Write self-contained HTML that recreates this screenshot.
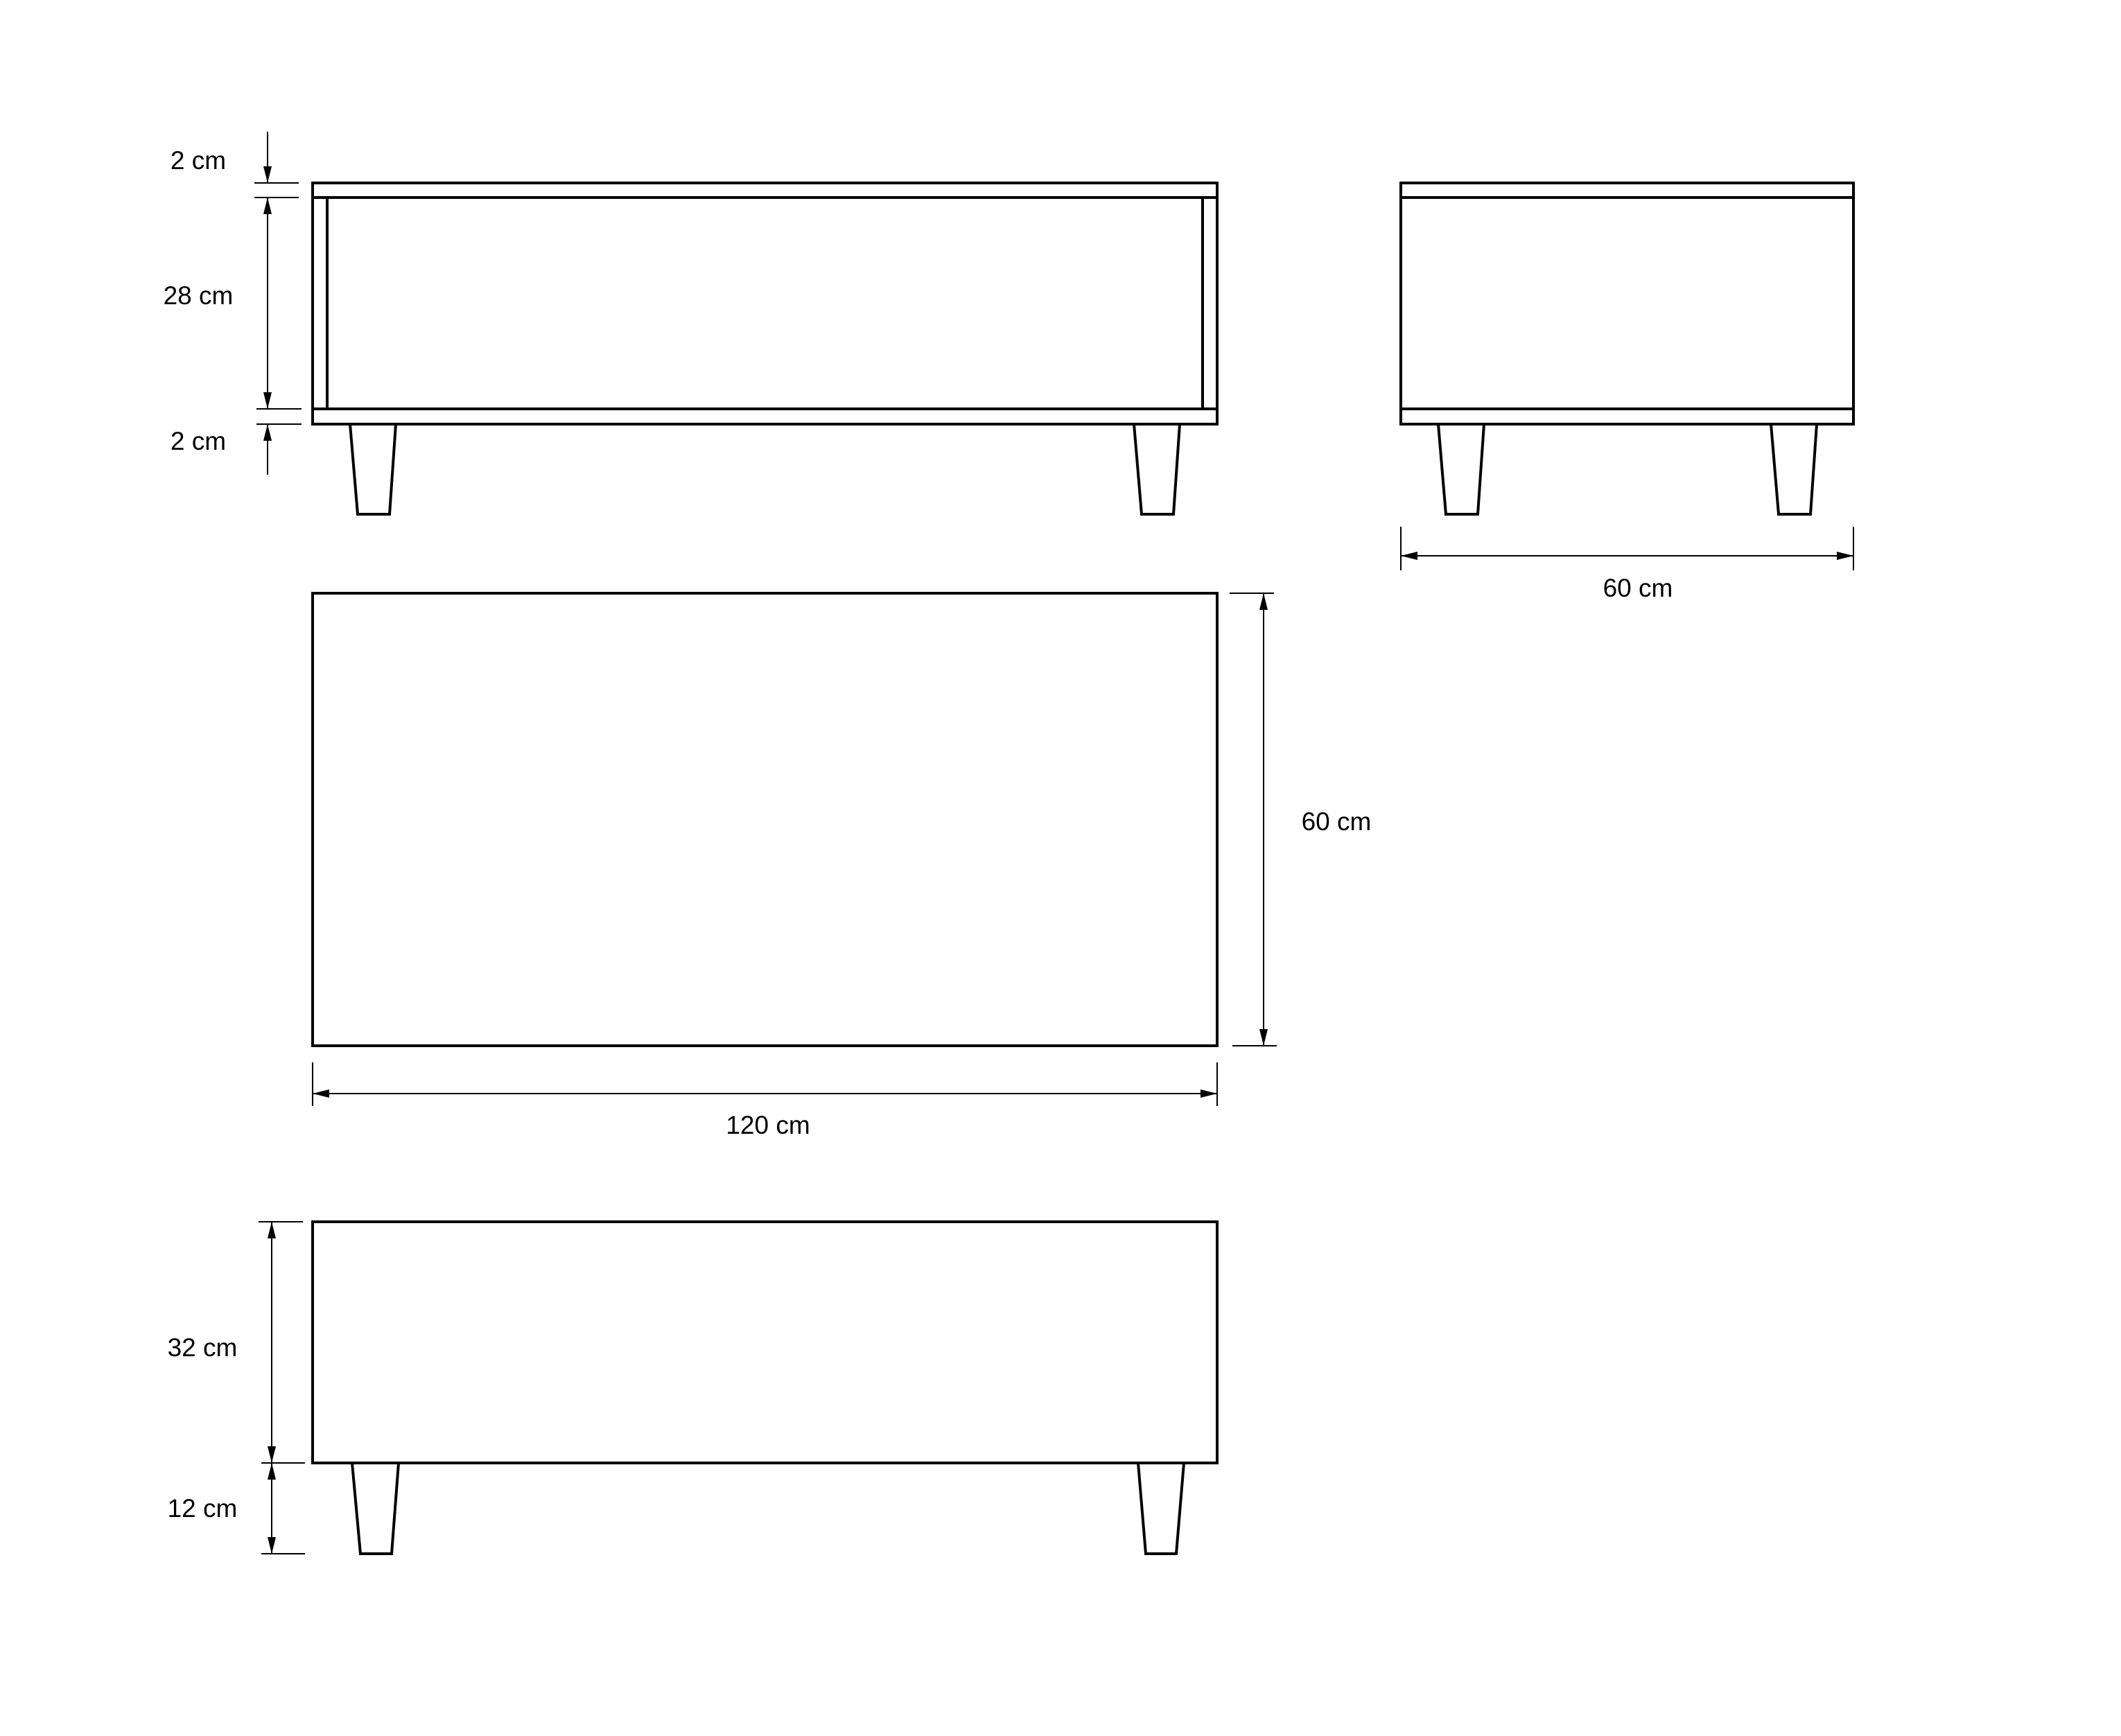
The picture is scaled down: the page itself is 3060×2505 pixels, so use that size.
<!DOCTYPE html>
<html><head><meta charset="utf-8"><style>
html,body{margin:0;padding:0;background:#fff;}
svg{display:block;}
text{font-family:"Liberation Sans",sans-serif;font-size:37px;fill:#000;text-anchor:middle;}
</style></head><body>
<svg width="3060" height="2505" viewBox="0 0 3060 2505" xmlns="http://www.w3.org/2000/svg">
<defs>
<marker id="a" viewBox="0 0 24 12" refX="24" refY="6" markerWidth="24" markerHeight="12" markerUnits="userSpaceOnUse" orient="auto"><path d="M0,0 L24,6 L0,12 Z" fill="#000"/></marker>
<marker id="b" viewBox="0 0 24 12" refX="0" refY="6" markerWidth="24" markerHeight="12" markerUnits="userSpaceOnUse" orient="auto"><path d="M24,0 L0,6 L24,12 Z" fill="#000"/></marker>
</defs>
<g fill="none" stroke="#000" stroke-width="4">
<rect x="451" y="264" width="1305" height="348"/>
<line x1="451" y1="285" x2="1756" y2="285"/>
<line x1="451" y1="590" x2="1756" y2="590"/>
<line x1="472" y1="285" x2="472" y2="590"/>
<line x1="1735" y1="285" x2="1735" y2="590"/>
<polygon points="505,612 571,612 562,742 516,742"/>
<polygon points="1636,612 1702,612 1693,742 1647,742"/>
<rect x="2021" y="264" width="653" height="348"/>
<line x1="2021" y1="285" x2="2674" y2="285"/>
<line x1="2021" y1="590" x2="2674" y2="590"/>
<polygon points="2075,612 2141,612 2132,742 2086,742"/>
<polygon points="2555,612 2621,612 2612,742 2566,742"/>
<rect x="451" y="856" width="1305" height="653"/>
<rect x="451" y="1763" width="1305" height="348"/>
<polygon points="508,2111 575,2111 565,2242 520,2242"/>
<polygon points="1642,2111 1708,2111 1697,2242 1653,2242"/>
</g>
<g fill="none" stroke="#000" stroke-width="2">
<line x1="367" y1="264" x2="431" y2="264"/>
<line x1="367" y1="285" x2="431" y2="285"/>
<line x1="370" y1="590" x2="435" y2="590"/>
<line x1="370" y1="612" x2="435" y2="612"/>
<line x1="386" y1="190" x2="386" y2="264" marker-end="url(#a)"/>
<line x1="386" y1="285" x2="386" y2="590" marker-start="url(#b)" marker-end="url(#a)"/>
<line x1="386" y1="685" x2="386" y2="612" marker-end="url(#a)"/>
<line x1="2021" y1="760" x2="2021" y2="823"/>
<line x1="2674" y1="760" x2="2674" y2="823"/>
<line x1="2021" y1="802" x2="2674" y2="802" marker-start="url(#b)" marker-end="url(#a)"/>
<line x1="1774" y1="856" x2="1838" y2="856"/>
<line x1="1778" y1="1509" x2="1842" y2="1509"/>
<line x1="1823" y1="856" x2="1823" y2="1509" marker-start="url(#b)" marker-end="url(#a)"/>
<line x1="451" y1="1533" x2="451" y2="1596"/>
<line x1="1756" y1="1533" x2="1756" y2="1596"/>
<line x1="451" y1="1578" x2="1756" y2="1578" marker-start="url(#b)" marker-end="url(#a)"/>
<line x1="373" y1="1763" x2="437" y2="1763"/>
<line x1="377" y1="2111" x2="440" y2="2111"/>
<line x1="377" y1="2242" x2="440" y2="2242"/>
<line x1="392" y1="1763" x2="392" y2="2111" marker-start="url(#b)" marker-end="url(#a)"/>
<line x1="392" y1="2111" x2="392" y2="2242" marker-start="url(#b)" marker-end="url(#a)"/>
</g>
<text x="286" y="244">2 cm</text>
<text x="286" y="439">28 cm</text>
<text x="286" y="649">2 cm</text>
<text x="2363" y="861">60 cm</text>
<text x="1928" y="1198">60 cm</text>
<text x="1108" y="1636">120 cm</text>
<text x="292" y="1957">32 cm</text>
<text x="292" y="2189">12 cm</text>
</svg>
</body></html>
